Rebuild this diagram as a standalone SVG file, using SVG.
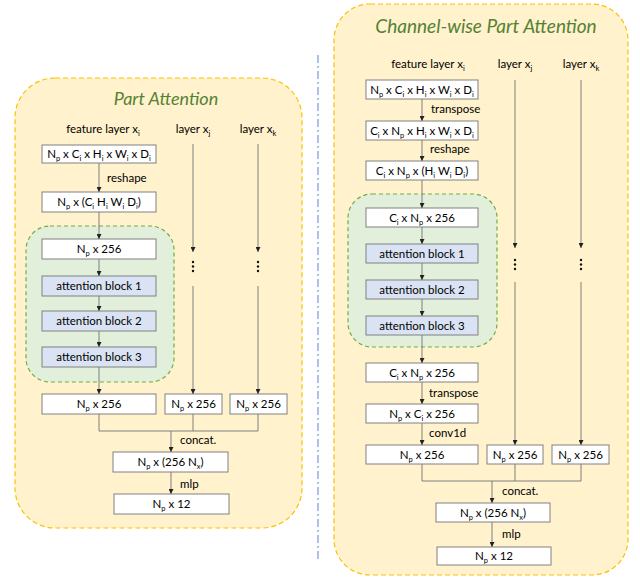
<svg xmlns="http://www.w3.org/2000/svg" width="640" height="578" viewBox="0 0 640 578">
  <defs>
    <marker id="arrow" viewBox="0 0 6 6" refX="6" refY="3" markerWidth="5" markerHeight="5" markerUnits="userSpaceOnUse" orient="auto">
      <path d="M0,0 L6,3 L0,6 z" fill="#222"/>
    </marker>
    <style>
      .panel { fill: #fff2cc; stroke: #ffc000; stroke-width: 1.2; stroke-dasharray: 5 3; }
      .group { fill: #e2efda; stroke: #70ad47; stroke-width: 1.2; stroke-dasharray: 4 3; }
      .box { fill: #ffffff; stroke: #808080; stroke-width: 1; }
      .attn { fill: #dae3f3; stroke: #808080; stroke-width: 1; }
      .title { font-family: Lato, "Open Sans", sans-serif; font-style: italic; font-size: 18px; fill: #548235; text-anchor: middle; }
      .t { font-family: Lato, "Open Sans", sans-serif; font-size: 11.5px; fill: #000; text-anchor: middle; }
      .lbl { font-family: Lato, "Open Sans", sans-serif; font-size: 11.5px; fill: #000; }
      .sub { font-size: 7.5px; }
      .edge { fill: none; stroke: #7f7f7f; stroke-width: 1; }
      .arr { fill: none; stroke: #7f7f7f; stroke-width: 1; marker-end: url(#arrow); }
      .dot { fill: #111; }
      .divider { stroke: #7f9fd6; stroke-width: 1.3; stroke-dasharray: 8 3 2 3; }
    </style>
  </defs>

  <!-- ================= Part Attention ================= -->
  <g id="panel-part">
    <rect class="panel" x="15" y="78" width="287" height="450" rx="40"/>
    <text class="title" x="166" y="105">Part Attention</text>
    <text class="t" x="103" y="133">feature layer x<tspan class="sub" dy="3">i</tspan></text>
    <text class="t" x="193" y="133">layer x<tspan class="sub" dy="3">j</tspan></text>
    <text class="t" x="258" y="133">layer x<tspan class="sub" dy="3">k</tspan></text>
  </g>
  <g id="pa-group">
    <rect class="group" x="26" y="226" width="148" height="156" rx="24"/>
  </g>
  <g id="pa-input">
    <rect class="box" x="42" y="145" width="114" height="18"/>
    <text class="t" x="99" y="158">N<tspan class="sub" dy="3">p</tspan><tspan dy="-3"> x C</tspan><tspan class="sub" dy="3">i</tspan><tspan dy="-3"> x H</tspan><tspan class="sub" dy="3">i</tspan><tspan dy="-3"> x W</tspan><tspan class="sub" dy="3">i</tspan><tspan dy="-3"> x D</tspan><tspan class="sub" dy="3">i</tspan></text>
  </g>
  <g id="pa-reshaped">
    <rect class="box" x="42" y="192" width="114" height="20"/>
    <text class="t" x="99" y="206">N<tspan class="sub" dy="3">p</tspan><tspan dy="-3"> x (C</tspan><tspan class="sub" dy="3">i</tspan><tspan dy="-3"> H</tspan><tspan class="sub" dy="3">i</tspan><tspan dy="-3"> W</tspan><tspan class="sub" dy="3">i</tspan><tspan dy="-3"> D</tspan><tspan class="sub" dy="3">i</tspan><tspan dy="-3">)</tspan></text>
  </g>
  <g id="pa-embed">
    <rect class="box" x="42" y="239" width="114" height="20"/>
    <text class="t" x="99" y="253">N<tspan class="sub" dy="3">p</tspan><tspan dy="-3"> x 256</tspan></text>
  </g>
  <g id="pa-attn1">
    <rect class="attn" x="42" y="276" width="114" height="20"/>
    <text class="t" x="99" y="290">attention block 1</text>
  </g>
  <g id="pa-attn2">
    <rect class="attn" x="42" y="311" width="114" height="20"/>
    <text class="t" x="99" y="325">attention block 2</text>
  </g>
  <g id="pa-attn3">
    <rect class="attn" x="42" y="347" width="114" height="20"/>
    <text class="t" x="99" y="361">attention block 3</text>
  </g>
  <g id="pa-out-i">
    <rect class="box" x="42" y="394" width="114" height="20"/>
    <text class="t" x="99" y="408">N<tspan class="sub" dy="3">p</tspan><tspan dy="-3"> x 256</tspan></text>
  </g>
  <g id="pa-out-j">
    <rect class="box" x="165" y="394" width="57" height="20"/>
    <text class="t" x="193.5" y="408">N<tspan class="sub" dy="3">p</tspan><tspan dy="-3"> x 256</tspan></text>
  </g>
  <g id="pa-out-k">
    <rect class="box" x="230" y="394" width="57" height="20"/>
    <text class="t" x="258.5" y="408">N<tspan class="sub" dy="3">p</tspan><tspan dy="-3"> x 256</tspan></text>
  </g>
  <g id="pa-concat">
    <rect class="box" x="113" y="452" width="115" height="20"/>
    <text class="t" x="170.5" y="466">N<tspan class="sub" dy="3">p</tspan><tspan dy="-3"> x (256 N</tspan><tspan class="sub" dy="3">x</tspan><tspan dy="-3">)</tspan></text>
  </g>
  <g id="pa-mlp">
    <rect class="box" x="114" y="494" width="115" height="20"/>
    <text class="t" x="171.5" y="508">N<tspan class="sub" dy="3">p</tspan><tspan dy="-3"> x 12</tspan></text>
  </g>

  <!-- ================= Channel-wise Part Attention ================= -->
  <g id="panel-channel">
    <rect class="panel" x="334" y="4" width="294" height="571" rx="36"/>
    <text class="title" x="486" y="33" style="font-size:19px">Channel-wise Part Attention</text>
    <text class="t" x="428" y="68">feature layer x<tspan class="sub" dy="3">i</tspan></text>
    <text class="t" x="515" y="68">layer x<tspan class="sub" dy="3">j</tspan></text>
    <text class="t" x="581" y="68">layer x<tspan class="sub" dy="3">k</tspan></text>
  </g>
  <g id="cpa-group">
    <rect class="group" x="348" y="194" width="149" height="153" rx="24"/>
  </g>
  <g id="cpa-input">
    <rect class="box" x="366" y="80" width="112" height="19"/>
    <text class="t" x="422" y="93.5">N<tspan class="sub" dy="3">p</tspan><tspan dy="-3"> x C</tspan><tspan class="sub" dy="3">i</tspan><tspan dy="-3"> x H</tspan><tspan class="sub" dy="3">i</tspan><tspan dy="-3"> x W</tspan><tspan class="sub" dy="3">i</tspan><tspan dy="-3"> x D</tspan><tspan class="sub" dy="3">i</tspan></text>
  </g>
  <g id="cpa-transposed">
    <rect class="box" x="366" y="121" width="112" height="19"/>
    <text class="t" x="422" y="134.5">C<tspan class="sub" dy="3">i</tspan><tspan dy="-3"> x N</tspan><tspan class="sub" dy="3">p</tspan><tspan dy="-3"> x H</tspan><tspan class="sub" dy="3">i</tspan><tspan dy="-3"> x W</tspan><tspan class="sub" dy="3">i</tspan><tspan dy="-3"> x D</tspan><tspan class="sub" dy="3">i</tspan></text>
  </g>
  <g id="cpa-reshaped">
    <rect class="box" x="366" y="161" width="112" height="19"/>
    <text class="t" x="422" y="174.5">C<tspan class="sub" dy="3">i</tspan><tspan dy="-3"> x N</tspan><tspan class="sub" dy="3">p</tspan><tspan dy="-3"> x (H</tspan><tspan class="sub" dy="3">i</tspan><tspan dy="-3"> W</tspan><tspan class="sub" dy="3">i</tspan><tspan dy="-3"> D</tspan><tspan class="sub" dy="3">i</tspan><tspan dy="-3">)</tspan></text>
  </g>
  <g id="cpa-embed">
    <rect class="box" x="366" y="208" width="112" height="19"/>
    <text class="t" x="422" y="221.5">C<tspan class="sub" dy="3">i</tspan><tspan dy="-3"> x N</tspan><tspan class="sub" dy="3">p</tspan><tspan dy="-3"> x 256</tspan></text>
  </g>
  <g id="cpa-attn1">
    <rect class="attn" x="366" y="244" width="112" height="19"/>
    <text class="t" x="422" y="257.5">attention block 1</text>
  </g>
  <g id="cpa-attn2">
    <rect class="attn" x="366" y="280" width="112" height="19"/>
    <text class="t" x="422" y="293.5">attention block 2</text>
  </g>
  <g id="cpa-attn3">
    <rect class="attn" x="366" y="316" width="112" height="19"/>
    <text class="t" x="422" y="329.5">attention block 3</text>
  </g>
  <g id="cpa-attn-out">
    <rect class="box" x="366" y="363" width="112" height="19"/>
    <text class="t" x="422" y="376.5">C<tspan class="sub" dy="3">i</tspan><tspan dy="-3"> x N</tspan><tspan class="sub" dy="3">p</tspan><tspan dy="-3"> x 256</tspan></text>
  </g>
  <g id="cpa-transposed-back">
    <rect class="box" x="366" y="404" width="112" height="19"/>
    <text class="t" x="422" y="417.5">N<tspan class="sub" dy="3">p</tspan><tspan dy="-3"> x C</tspan><tspan class="sub" dy="3">i</tspan><tspan dy="-3"> x 256</tspan></text>
  </g>
  <g id="cpa-out-i">
    <rect class="box" x="366" y="445" width="112" height="19"/>
    <text class="t" x="422" y="458.5">N<tspan class="sub" dy="3">p</tspan><tspan dy="-3"> x 256</tspan></text>
  </g>
  <g id="cpa-out-j">
    <rect class="box" x="487" y="445" width="56" height="19"/>
    <text class="t" x="515" y="458.5">N<tspan class="sub" dy="3">p</tspan><tspan dy="-3"> x 256</tspan></text>
  </g>
  <g id="cpa-out-k">
    <rect class="box" x="552" y="445" width="57" height="19"/>
    <text class="t" x="580.5" y="458.5">N<tspan class="sub" dy="3">p</tspan><tspan dy="-3"> x 256</tspan></text>
  </g>
  <g id="cpa-concat">
    <rect class="box" x="436" y="503" width="114" height="19"/>
    <text class="t" x="493" y="516.5">N<tspan class="sub" dy="3">p</tspan><tspan dy="-3"> x (256 N</tspan><tspan class="sub" dy="3">x</tspan><tspan dy="-3">)</tspan></text>
  </g>
  <g id="cpa-mlp">
    <rect class="box" x="437" y="547" width="114" height="18"/>
    <text class="t" x="494" y="560">N<tspan class="sub" dy="3">p</tspan><tspan dy="-3"> x 12</tspan></text>
  </g>

  <!-- separator between the two variants -->
  <line class="divider" x1="318" y1="55" x2="318" y2="562"/>

  <!-- ================= connectors ================= -->
  <g id="connectors">
    <!-- Part Attention, main branch -->
    <line class="arr" x1="99" y1="163" x2="99" y2="192"/>
    <line class="arr" x1="99" y1="212" x2="99" y2="239"/>
    <line class="arr" x1="99" y1="259" x2="99" y2="276"/>
    <line class="arr" x1="99" y1="296" x2="99" y2="311"/>
    <line class="arr" x1="99" y1="331" x2="99" y2="347"/>
    <line class="arr" x1="99" y1="367" x2="99" y2="394"/>
    <text class="lbl" x="107" y="182">reshape</text>
    <!-- Part Attention, layers j and k -->
    <line class="arr" x1="193" y1="144" x2="193" y2="252"/>
    <circle class="dot" cx="193" cy="262" r="1.2"/>
    <circle class="dot" cx="193" cy="266.5" r="1.2"/>
    <circle class="dot" cx="193" cy="271" r="1.2"/>
    <line class="arr" x1="193" y1="286" x2="193" y2="394"/>
    <line class="arr" x1="258" y1="144" x2="258" y2="252"/>
    <circle class="dot" cx="258" cy="262" r="1.2"/>
    <circle class="dot" cx="258" cy="266.5" r="1.2"/>
    <circle class="dot" cx="258" cy="271" r="1.2"/>
    <line class="arr" x1="258" y1="286" x2="258" y2="394"/>
    <!-- Part Attention, merge -->
    <path class="edge" d="M99,414 V431 H258 V414 M193,414 V431"/>
    <line class="arr" x1="171" y1="431" x2="171" y2="452"/>
    <text class="lbl" x="180" y="444">concat.</text>
    <line class="arr" x1="171" y1="472" x2="171" y2="494"/>
    <text class="lbl" x="180" y="488">mlp</text>

    <!-- Channel-wise, main branch -->
    <line class="arr" x1="422" y1="99" x2="422" y2="121"/>
    <text class="lbl" x="431" y="113">transpose</text>
    <line class="arr" x1="422" y1="140" x2="422" y2="161"/>
    <text class="lbl" x="430" y="153">reshape</text>
    <line class="arr" x1="422" y1="180" x2="422" y2="208"/>
    <line class="arr" x1="422" y1="227" x2="422" y2="244"/>
    <line class="arr" x1="422" y1="263" x2="422" y2="280"/>
    <line class="arr" x1="422" y1="299" x2="422" y2="316"/>
    <line class="arr" x1="422" y1="335" x2="422" y2="363"/>
    <line class="arr" x1="422" y1="382" x2="422" y2="404"/>
    <text class="lbl" x="429" y="397">transpose</text>
    <line class="arr" x1="422" y1="423" x2="422" y2="445"/>
    <text class="lbl" x="429" y="437">conv1d</text>
    <!-- Channel-wise, layers j and k -->
    <line class="arr" x1="515" y1="80" x2="515" y2="248"/>
    <circle class="dot" cx="515" cy="260" r="1.2"/>
    <circle class="dot" cx="515" cy="264.5" r="1.2"/>
    <circle class="dot" cx="515" cy="269" r="1.2"/>
    <line class="arr" x1="515" y1="282" x2="515" y2="445"/>
    <line class="arr" x1="581" y1="80" x2="581" y2="248"/>
    <circle class="dot" cx="581" cy="260" r="1.2"/>
    <circle class="dot" cx="581" cy="264.5" r="1.2"/>
    <circle class="dot" cx="581" cy="269" r="1.2"/>
    <line class="arr" x1="581" y1="282" x2="581" y2="445"/>
    <!-- Channel-wise, merge -->
    <path class="edge" d="M422,464 V481 H581 V464 M515,464 V481"/>
    <line class="arr" x1="492" y1="481" x2="492" y2="503"/>
    <text class="lbl" x="502" y="495">concat.</text>
    <line class="arr" x1="492" y1="522" x2="492" y2="547"/>
    <text class="lbl" x="502" y="538">mlp</text>
  </g>
</svg>
